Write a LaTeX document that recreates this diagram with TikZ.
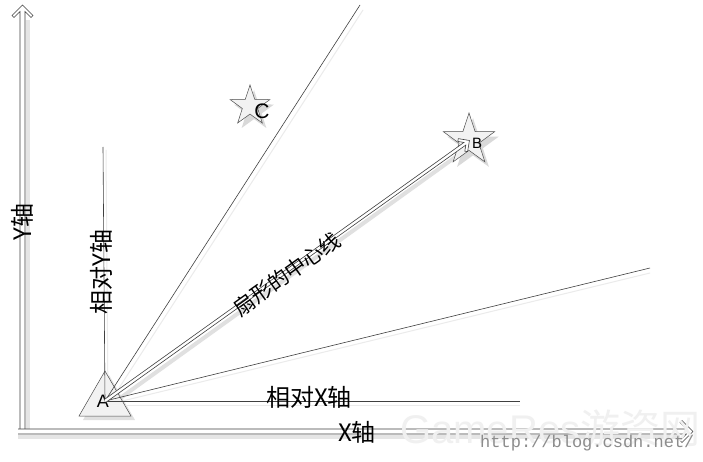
\documentclass[tikz,border=0pt]{standalone}
\usepackage{fontspec}
\setmainfont{Liberation Sans}
\setmonofont{Liberation Mono}
\newfontfamily\cjk{Noto Sans CJK SC}
\usetikzlibrary{shapes.geometric,calc}
\tikzset{
  hollowarrow/.style={draw=black!75, line width=0.6pt, fill=white, line join=miter},
  shadowband/.style={draw=black!10, line width=4pt},
  thinline/.style={draw=black!75, line width=0.6pt},
  faintshadow/.style={draw=black!8, line width=1pt},
  starshape/.style={star, star points=5, star point ratio=2.6, minimum size=#1, inner sep=0pt, draw=black!70, fill=black!5, line width=0.5pt},
  starshadow/.style={star, star points=5, star point ratio=2.6, minimum size=#1, inner sep=0pt, fill=black!15},
  lbl/.style={font=\cjk\fontsize{24}{26}\selectfont, inner sep=0pt}
}
% hollow double arrow along +x: #1 length, #2 half gap, #3 head size
\newcommand{\hollowarr}[3]{%
  \path[hollowarrow] (0,#2) -- ({#1-4-#2},#2) -- ({#1-#3-2},{#3-2}) -- ({#1-#3},#3) -- (#1,0)
    -- ({#1-#3},{-#3}) -- ({#1-#3-2},{-#3+2}) -- ({#1-4-#2},{-#2}) -- (0,{-#2});}
\begin{document}
\begin{tikzpicture}[x=1pt,y=1pt]
\useasboundingbox[fill=white] (0,0) rectangle (703,-462);
% named coordinates (page pixels, y downward -> negative)
\coordinate (ybase) at (22.5,-432);
\coordinate (xbase) at (18,-431.5);
\coordinate (ryt) at (103,-147);
\coordinate (rxr) at (520,-401);
\coordinate (fu) at (360,-5);
\coordinate (fl) at (650,-268);
% shadows
\draw[shadowband] (28,-432) -- (28,-20);
\draw[shadowband] (18,-437) -- (680,-437);
\node[regular polygon, regular polygon sides=3, minimum size=60pt, inner sep=0pt, fill=black!12] at (109,-405) {};
\node[starshadow=54pt] at (473,-145) {};
\node[starshadow=42pt] at (254,-111) {};
\draw[faintshadow] (108,-403) -- (106,-150);
\draw[faintshadow] (108,-405) -- (520,-405);
\draw[faintshadow] (110,-402) -- (363,-10);
\draw[faintshadow] (110,-404) -- (650,-273);
\draw[draw=black!12, line width=4pt] (112,-404) -- (468,-148);
% triangle A
\node[regular polygon, regular polygon sides=3, minimum size=60pt, inner sep=0pt, draw=black!70, fill=black!5, line width=0.5pt] (A) at (105,-401) {};
\node[font=\fontsize{18}{19}\selectfont, inner sep=0pt] (Alab) at (103,-401) {A};
% stars
\node[starshape=54pt] (B) at (469,-140) {};
\node[font=\fontsize{15}{16}\selectfont, inner sep=0pt] (Blab) at (477,-143) {B};
\node[starshape=42pt] (C) at (250,-106) {};
\node[font=\fontsize{21}{22}\selectfont, inner sep=0pt] (Clab) at (262,-111) {C};
% lines
\draw[thinline] (A.center) -- (ryt);
\draw[thinline] (A.center) -- (rxr);
\draw[thinline] (A.center) -- (fu);
\draw[thinline] (A.center) -- (fl);
% centre line arrow A -> B
\begin{scope}[shift={(A.center)}, rotate=35.56]
  \hollowarr{448}{1.6}{8}
\end{scope}
% axes
\begin{scope}[shift={(ybase)}, rotate=90]
  \hollowarr{427}{2.5}{10.5}
\end{scope}
\begin{scope}[shift={(xbase)}]
  \hollowarr{675}{2.5}{11}
\end{scope}
% watermark
\node[font=\fontsize{40}{42}\selectfont, text=black!6, inner sep=0pt, anchor=west] (wm) at (400,-428) {GameRes\cjk 游资网};
\node[font=\ttfamily\fontsize{17}{18}\selectfont, text=black!45, inner sep=0pt, anchor=west] (url) at (480,-443) {http://blog.csdn.net/};
% labels
\node[lbl, rotate=90] (ylab) at (22,-222) {Y轴};
\node[lbl, anchor=north] (xlab) at (357,-421) {X轴};
\node[lbl, rotate=90] (rylab) at (101,-272) {相对Y轴};
\node[lbl] (rxlab) at (309,-397) {相对X轴};
\node[lbl, rotate=35.56, font=\cjk\fontsize{21}{23}\selectfont] (clab) at (287,-274) {扇形的中心线};
\end{tikzpicture}
\end{document}
